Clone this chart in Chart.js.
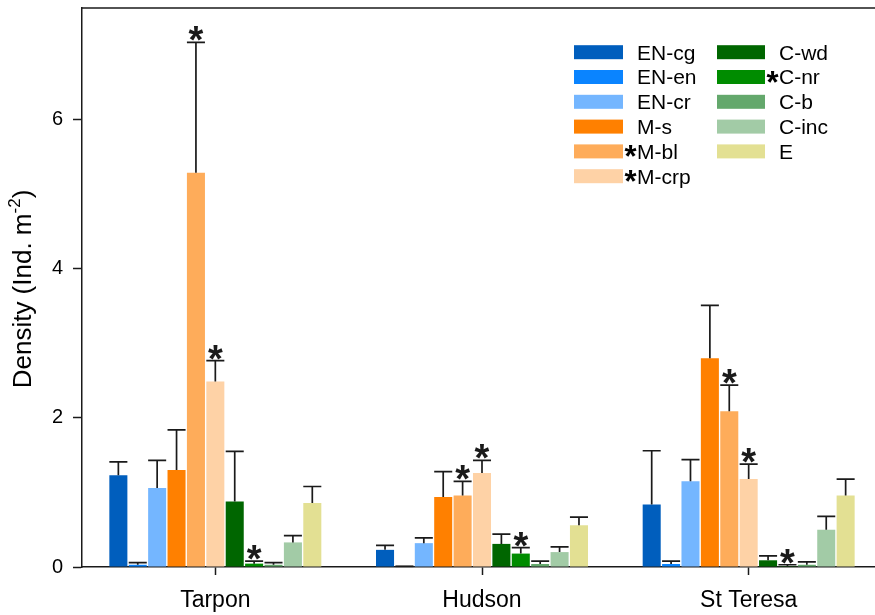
<!DOCTYPE html>
<html>
<head>
<meta charset="utf-8">
<script src="https://cdn.jsdelivr.net/npm/chart.js@4.4.1/dist/chart.umd.min.js"></script>
<style>
  html, body { margin: 0; padding: 0; background: #fff; overflow: hidden; }
</style>
</head>
<body>
<canvas id="densityChart" width="890" height="615"></canvas>
<script>
// sites on the x axis and the functional groups (one bar each)
const sites = ['Tarpon', 'Hudson', 'St Teresa'];
const groups = ['EN-cg', 'EN-en', 'EN-cr', 'M-s', 'M-bl', 'M-crp', 'C-wd', 'C-nr', 'C-b', 'C-inc', 'E'];
const colours = ['#005ebd', '#0a84ff', '#74b6ff', '#ff8000', '#feac5a', '#fed2a6',
                 '#006600', '#008c00', '#64a86c', '#a2cba6', '#e3e093'];
// groups marked with * in the legend and above the bars
const starred = ['M-bl', 'M-crp', 'C-nr'];

// mean density (Ind. m-2), same order as groups
const tarponMean   = [1.23, 0.03, 1.06, 1.30, 5.29, 2.49, 0.88, 0.045, 0.03, 0.33, 0.86];
const hudsonMean   = [0.23, 0.01, 0.32, 0.94, 0.96, 1.26, 0.31, 0.18, 0.04, 0.20, 0.56];
const stTeresaMean = [0.84, 0.04, 1.15, 2.80, 2.09, 1.18, 0.09, 0.01, 0.03, 0.50, 0.96];
// standard errors
const tarponSE     = [0.18, 0.03, 0.37, 0.54, 1.75, 0.28, 0.67, 0.035, 0.03, 0.09, 0.22];
const hudsonSE     = [0.06, 0.00, 0.07, 0.34, 0.19, 0.17, 0.13, 0.08, 0.04, 0.07, 0.11];
const stTeresaSE   = [0.72, 0.04, 0.29, 0.71, 0.35, 0.20, 0.06, 0.02, 0.04, 0.18, 0.22];

const yTicks = [0, 2, 4, 6];
const yTitle = 'Density (Ind. m';
const yTitleSup = '-2';

const FONT = '"Liberation Sans", Arial, sans-serif';
const INK = '#1a1a1a';

const means = [tarponMean, hudsonMean, stTeresaMean];
const ses = [tarponSE, hudsonSE, stTeresaSE];

const datasets = groups.map((g, i) => ({
    label: g,
    data: means.map(m => m[i]),
    se: ses.map(s => s[i]),
    backgroundColor: colours[i],
    borderWidth: 0
}));

function drawStar(ctx, cx, cy, size) {
    ctx.font = 'bold ' + size + 'px ' + FONT;
    ctx.textAlign = 'center';
    ctx.textBaseline = 'alphabetic';
    const m = ctx.measureText('*');
    const base = cy + (m.actualBoundingBoxAscent - m.actualBoundingBoxDescent) / 2;
    ctx.fillText('*', cx, base);
}

const errorBars = {
    id: 'errorBars',
    afterDatasetsDraw(chart) {
        const ctx = chart.ctx;
        const y = chart.scales.y;
        ctx.save();
        ctx.strokeStyle = INK;
        ctx.fillStyle = INK;
        ctx.lineWidth = 1.7;
        chart.data.datasets.forEach((ds, i) => {
            const meta = chart.getDatasetMeta(i);
            meta.data.forEach((bar, j) => {
                const top = y.getPixelForValue(ds.data[j] + ds.se[j]);
                const half = bar.width / 2;
                ctx.beginPath();
                ctx.moveTo(bar.x, bar.y);
                ctx.lineTo(bar.x, top);
                ctx.moveTo(bar.x - half, top);
                ctx.lineTo(bar.x + half, top);
                ctx.stroke();
                if (starred.includes(ds.label)) drawStar(ctx, bar.x, top - 8.5, 38);
            });
        });
        ctx.restore();
    }
};

const frameAndText = {
    id: 'frameAndText',
    afterDraw(chart) {
        const ctx = chart.ctx;
        const area = chart.chartArea;
        ctx.save();
        // top border of the frame
        ctx.strokeStyle = INK;
        ctx.lineWidth = 1.5;
        ctx.beginPath();
        ctx.moveTo(area.left, area.top);
        ctx.lineTo(area.right + 10, area.top);
        ctx.stroke();

        // y axis title with superscript, centred on the plot
        ctx.fillStyle = '#000';
        ctx.font = '26px ' + FONT;
        let total = ctx.measureText(yTitle + ')').width;
        ctx.font = '17px ' + FONT;
        total += ctx.measureText(yTitleSup).width;
        ctx.translate(31, 289 + total / 2);
        ctx.rotate(-Math.PI / 2);
        ctx.textAlign = 'left';
        ctx.textBaseline = 'alphabetic';
        ctx.font = '26px ' + FONT;
        ctx.fillText(yTitle, 0, 0);
        let w = ctx.measureText(yTitle).width;
        ctx.font = '17px ' + FONT;
        ctx.fillText(yTitleSup, w, -11);
        w += ctx.measureText(yTitleSup).width;
        ctx.font = '26px ' + FONT;
        ctx.fillText(')', w, 0);
        ctx.restore();

        // legend, two columns
        ctx.save();
        const rowH = 24.8;
        const cols = [{sx: 574, sw: 49, tx: 637}, {sx: 717, sw: 48, tx: 779}];
        groups.forEach((g, i) => {
            const col = cols[i < 6 ? 0 : 1];
            const cy = 52.2 + (i < 6 ? i : i - 6) * rowH;
            ctx.fillStyle = colours[i];
            ctx.fillRect(col.sx, cy - 7, col.sw, 14);
            ctx.fillStyle = '#000';
            ctx.font = '21px ' + FONT;
            ctx.textAlign = 'left';
            ctx.textBaseline = 'alphabetic';
            ctx.fillText(g, col.tx, cy + 7.3);
            if (starred.includes(g)) drawStar(ctx, col.tx - 6.5, cy, 31);
        });
        ctx.restore();
    }
};

new Chart(document.getElementById('densityChart'), {
    type: 'bar',
    data: { labels: sites, datasets: datasets },
    options: {
        responsive: false,
        animation: false,
        layout: { padding: { top: 8, right: 8, left: 0, bottom: 0 } },
        datasets: { bar: { categoryPercentage: 0.8, barPercentage: 0.93 } },
        plugins: { legend: { display: false }, tooltip: { enabled: false } },
        scales: {
            x: {
                grid: { offset: false, drawOnChartArea: false, tickLength: 8, tickColor: INK, tickWidth: 1.5 },
                border: { color: INK, width: 1.5 },
                ticks: { color: '#000', padding: 12, font: { family: FONT, size: 23 } },
                afterFit(s) { s.height = 48; s.paddingLeft = 0; s.paddingRight = 0; }
            },
            y: {
                min: 0,
                max: 7.5,
                grid: { drawOnChartArea: false, tickLength: 9, tickColor: INK, tickWidth: 1.5 },
                border: { color: INK, width: 1.5 },
                ticks: { color: '#000', padding: 10, stepSize: 2, font: { family: FONT, size: 20 } },
                afterBuildTicks(s) { s.ticks = yTicks.map(v => ({ value: v })); },
                afterFit(s) { s.width = 82; s.paddingTop = 0; s.paddingBottom = 0; }
            }
        }
    },
    plugins: [errorBars, frameAndText]
});
</script>
</body>
</html>
